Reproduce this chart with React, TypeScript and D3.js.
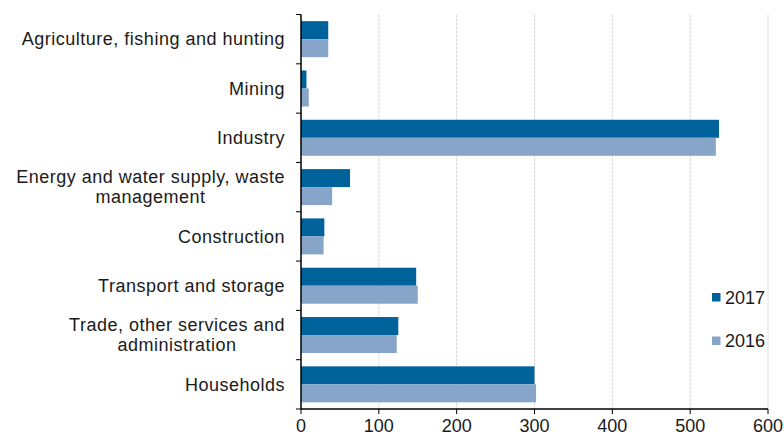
import React, { useEffect, useRef } from 'react';
import * as d3 from 'd3';

const categories = [
  ['Agriculture, fishing and hunting'],
  ['Mining'],
  ['Industry'],
  ['Energy and water supply, waste', 'management'],
  ['Construction'],
  ['Transport and storage'],
  ['Trade, other services and', 'administration'],
  ['Households']
];
const values2017 = [35, 7, 537, 63, 30, 148, 125, 300];
const values2016 = [35, 10, 533, 40, 29, 150, 123, 302];
const seriesNames = ['2017', '2016'];
const xTicks = [0, 100, 200, 300, 400, 500, 600];

const colors = ['#00629b', '#87a5c9'];
const font = '"Liberation Sans", Arial, sans-serif';

function App() {
  const ref = useRef<SVGSVGElement>(null);

  const width = 784;
  const height = 441;
  const margin = { top: 14.5, right: 16, bottom: 32, left: 301 };

  useEffect(() => {
    const svg = d3.select(ref.current);
    svg.selectAll('*').remove();

    const x = d3
      .scaleLinear()
      .domain([0, 600])
      .range([margin.left, width - margin.right]);

    const y = d3
      .scaleBand()
      .domain(categories.map((_, i) => String(i)))
      .range([margin.top, height - margin.bottom])
      .paddingInner(0.27)
      .paddingOuter(0.135);

    const inner = d3
      .scaleBand()
      .domain(seriesNames)
      .range([0, y.bandwidth()]);

    // gridlines
    svg
      .append('g')
      .selectAll('line')
      .data(xTicks.filter(t => t > 0))
      .enter()
      .append('line')
      .attr('x1', d => x(d))
      .attr('x2', d => x(d))
      .attr('y1', margin.top)
      .attr('y2', height - margin.bottom)
      .style('stroke', '#d6d6d6')
      .style('stroke-width', 1)
      .style('stroke-dasharray', '3,1');

    // bars
    const series = [values2017, values2016];
    series.forEach((vals, s) => {
      svg
        .append('g')
        .selectAll('rect')
        .data(vals)
        .enter()
        .append('rect')
        .attr('x', x(0))
        .attr('y', (_, i) => (y(String(i)) as number) + (inner(seriesNames[s]) as number))
        .attr('width', d => x(d) - x(0))
        .attr('height', inner.bandwidth())
        .style('fill', colors[s]);
    });

    // y axis
    const yAxis = svg.append('g');
    yAxis
      .append('line')
      .attr('x1', x(0))
      .attr('x2', x(0))
      .attr('y1', margin.top)
      .attr('y2', height - margin.bottom)
      .style('stroke', '#000')
      .style('stroke-width', 1.5);
    const yBounds = categories.map((_, i) => (y(String(i)) as number) - (y.step() * y.paddingInner()) / 2);
    yBounds.push(height - margin.bottom);
    yAxis
      .selectAll('line.tick')
      .data(yBounds)
      .enter()
      .append('line')
      .attr('class', 'tick')
      .attr('x1', x(0) - 5)
      .attr('x2', x(0))
      .attr('y1', d => d)
      .attr('y2', d => d)
      .style('stroke', '#000');

    // category labels
    categories.forEach((lines, i) => {
      const cy = (y(String(i)) as number) + y.bandwidth() / 2;
      const lh = 20;
      const t = svg
        .append('text')
        .style('font-family', font)
        .style('font-size', '18px')
        .style('letter-spacing', '0.5px')
        .style('fill', '#1a1a1a');
      const tmp = t.append('tspan').text(lines[0]);
      const w = (tmp.node() as SVGTSpanElement).getComputedTextLength();
      tmp.remove();
      const right = x(0) - 16;
      const center = right - w / 2;
      lines.forEach((ln, j) => {
        t.append('tspan')
          .attr('x', lines.length > 1 ? center : right)
          .attr('text-anchor', lines.length > 1 ? 'middle' : 'end')
          .attr('y', cy + (j - (lines.length - 1) / 2) * lh)
          .attr('dy', '0.35em')
          .text(ln);
      });
    });

    // x axis
    const xAxis = svg.append('g');
    xAxis
      .append('line')
      .attr('x1', x(0))
      .attr('x2', x(600))
      .attr('y1', height - margin.bottom)
      .attr('y2', height - margin.bottom)
      .style('stroke', '#000')
      .style('stroke-width', 1.5);
    xAxis
      .selectAll('line.tick')
      .data(xTicks)
      .enter()
      .append('line')
      .attr('class', 'tick')
      .attr('x1', d => x(d))
      .attr('x2', d => x(d))
      .attr('y1', height - margin.bottom)
      .attr('y2', height - margin.bottom + 5)
      .style('stroke', '#000');
    xAxis
      .selectAll('text')
      .data(xTicks)
      .enter()
      .append('text')
      .attr('x', d => x(d))
      .attr('y', height - margin.bottom + 17)
      .attr('dy', '0.35em')
      .attr('text-anchor', 'middle')
      .style('font-family', font)
      .style('font-size', '18px')
      .style('fill', '#1a1a1a')
      .text(d => d);

    // legend
    const legend = svg
      .append('g')
      .selectAll('g')
      .data(seriesNames)
      .enter()
      .append('g')
      .attr('transform', (_, i) => `translate(712, ${297.5 + i * 43.5})`);
    legend
      .append('rect')
      .attr('x', 0)
      .attr('y', -4.5)
      .attr('width', 8.5)
      .attr('height', 8.5)
      .style('fill', (_, i) => colors[i]);
    legend
      .append('text')
      .attr('x', 13)
      .attr('y', 0)
      .attr('dy', '0.35em')
      .style('font-family', font)
      .style('font-size', '18px')
      .style('fill', '#1a1a1a')
      .text(d => d);
  }, []);

  return (
    <svg
      ref={ref}
      width={width}
      height={height}
      style={{ position: 'absolute', left: 0, top: 0, background: '#fff' }}
    />
  );
}

export default App;
